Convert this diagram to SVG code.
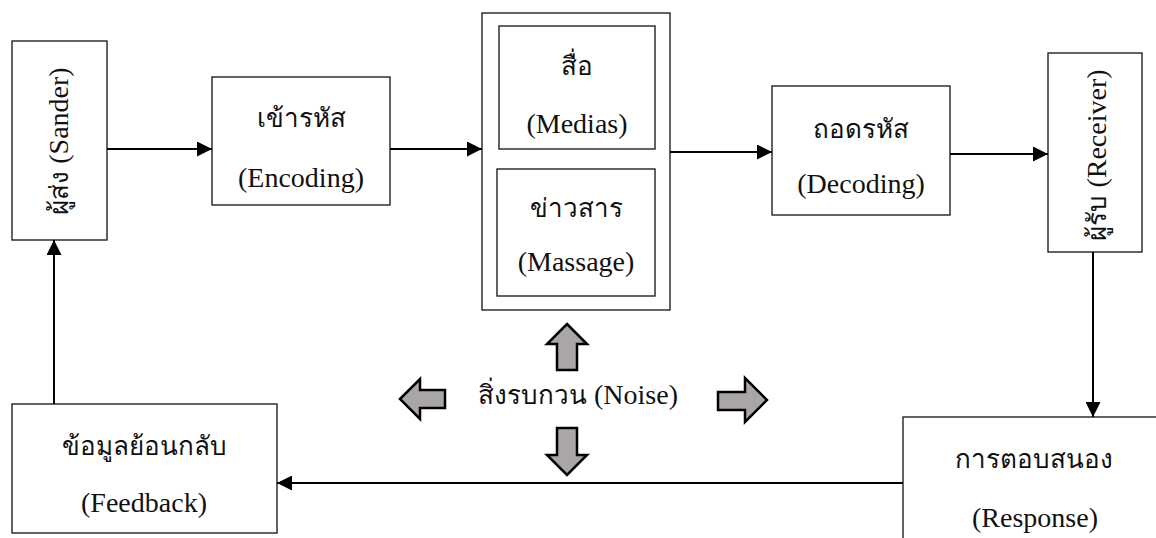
<svg xmlns="http://www.w3.org/2000/svg" width="1156" height="538" viewBox="0 0 1156 538">
  <style>
    .box { fill: #ffffff; stroke: #222222; stroke-width: 1.4; }
    .lbl { font-family: "Liberation Serif", "Times New Roman", serif; font-size: 28px; fill: #111111; text-anchor: middle; }
    .th { font-size: 26px; }
    .wire { fill: none; stroke: #000000; stroke-width: 2; }
    .block { fill: #aba6a6; stroke: #000000; stroke-width: 2.5; stroke-linejoin: miter; }
  </style>
  <defs>
    <marker id="head" viewBox="0 0 15 15" refX="15" refY="7.5" markerUnits="userSpaceOnUse" markerWidth="15" markerHeight="15" orient="auto">
      <path d="M0,0 L15,7.5 L0,15 Z" fill="#000000"/>
    </marker>
  </defs>
  <rect width="1156" height="538" fill="#ffffff"/>

  <!-- sender -->
  <g id="sender">
    <rect class="box" x="12" y="41" width="95" height="199"/>
    <text class="lbl" transform="translate(68,141) rotate(-90)"><tspan class="th">ผู้ส่ง</tspan> (Sander)</text>
  </g>

  <!-- encoding -->
  <g id="encoding">
    <rect class="box" x="212" y="77" width="178" height="128"/>
    <text class="lbl th" x="301" y="127">เข้ารหัส</text>
    <text class="lbl" x="301" y="187">(Encoding)</text>
  </g>

  <!-- channel: media + message -->
  <g id="channel">
    <rect class="box" x="482" y="13" width="188" height="297"/>
    <g id="media">
      <rect class="box" x="499" y="26" width="156" height="123"/>
      <text class="lbl th" x="577" y="75">สื่อ</text>
      <text class="lbl" x="577" y="133">(Medias)</text>
    </g>
    <g id="message">
      <rect class="box" x="497" y="169" width="158" height="127"/>
      <text class="lbl th" x="576" y="217">ข่าวสาร</text>
      <text class="lbl" x="576" y="271">(Massage)</text>
    </g>
  </g>

  <!-- decoding -->
  <g id="decoding">
    <rect class="box" x="772" y="86" width="178" height="129"/>
    <text class="lbl th" x="861" y="138">ถอดรหัส</text>
    <text class="lbl" x="861" y="193">(Decoding)</text>
  </g>

  <!-- receiver -->
  <g id="receiver">
    <rect class="box" x="1048" y="53" width="94" height="199"/>
    <text class="lbl" transform="translate(1106,155) rotate(-90)"><tspan class="th">ผู้รับ</tspan> (Receiver)</text>
  </g>

  <!-- response (runs past the page edge) -->
  <g id="response">
    <rect class="box" x="903" y="417" width="270" height="140"/>
    <text class="lbl th" x="1034" y="468">การตอบสนอง</text>
    <text class="lbl" x="1035" y="527">(Response)</text>
  </g>

  <!-- feedback -->
  <g id="feedback">
    <rect class="box" x="12" y="404" width="265" height="129"/>
    <text class="lbl th" x="144" y="455">ข้อมูลย้อนกลับ</text>
    <text class="lbl" x="144" y="512">(Feedback)</text>
  </g>

  <!-- noise with four block arrows -->
  <g id="noise">
    <text class="lbl" x="578" y="404"><tspan class="th">สิ่งรบกวน</tspan> (Noise)</text>
    <polygon class="block" points="567,324 587,344 577,344 577,370 557,370 557,344 547,344"/>
    <polygon class="block" points="557,428 577,428 577,455 587,455 567,475 547,455 557,455"/>
    <polygon class="block" points="400,399 420,379 420,390 445,390 445,408 420,408 420,419"/>
    <polygon class="block" points="718,392 745,392 745,378 767,400 745,422 745,410 718,410"/>
  </g>

  <!-- connectors -->
  <g id="connectors">
    <line class="wire" x1="107" y1="149" x2="212" y2="149" marker-end="url(#head)"/>
    <line class="wire" x1="390" y1="149" x2="482" y2="149" marker-end="url(#head)"/>
    <line class="wire" x1="670" y1="152" x2="772" y2="152" marker-end="url(#head)"/>
    <line class="wire" x1="950" y1="154" x2="1048" y2="154" marker-end="url(#head)"/>
    <line class="wire" x1="1093" y1="252" x2="1093" y2="417" marker-end="url(#head)"/>
    <line class="wire" x1="903" y1="483" x2="277" y2="483" marker-end="url(#head)"/>
    <line class="wire" x1="54" y1="404" x2="54" y2="240" marker-end="url(#head)"/>
  </g>
</svg>
